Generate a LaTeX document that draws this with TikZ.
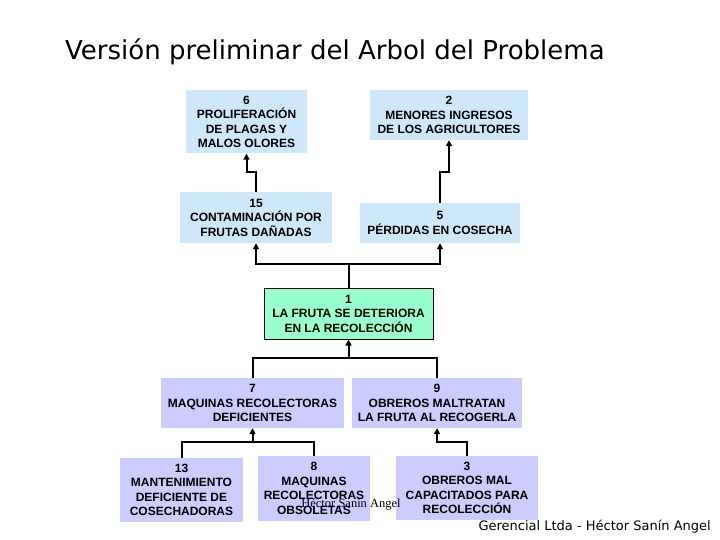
\documentclass[tikz,border=0pt]{standalone}
\usepackage{fontspec}
\setmainfont{Liberation Sans}
\newfontfamily\firmafont{Liberation Serif}
\newfontfamily\manofont{DejaVu Sans}
\usetikzlibrary{arrows.meta}
\definecolor{cielo}{RGB}{206,232,250}
\definecolor{menta}{RGB}{153,255,204}
\definecolor{lila}{RGB}{204,204,255}

\begin{document}
\begin{tikzpicture}[x=1pt,y=-1pt,
  caja/.style={align=center,font=\bfseries\fontsize{12}{14.5}\selectfont,inner sep=0pt},
  efecto/.style={caja,fill=cielo},
  central/.style={caja,fill=menta,draw=black,line width=1pt},
  causa/.style={caja,fill=lila},
  linea/.style={line width=2pt},
  flecha/.style={linea,-{Triangle[width=6pt,length=6pt]}}]
\useasboundingbox (0,0) rectangle (720,540);
\node[anchor=west,font=\manofont\fontsize{26}{30}\selectfont,inner sep=0pt] (titulo) at (65,52) {Versión preliminar del Arbol del Problema};
\node[efecto,minimum width=121pt,minimum height=63pt] (b6) at (246.5,122) {6\\PROLIFERACIÓN\\DE PLAGAS Y\\MALOS OLORES};
\node[efecto,minimum width=158pt,minimum height=50pt] (b2) at (449,115) {2\\MENORES INGRESOS\\DE LOS AGRICULTORES};
\node[efecto,minimum width=152pt,minimum height=51pt] (b15) at (256,217.5) {15\\CONTAMINACIÓN POR\\FRUTAS DAÑADAS};
\node[efecto,minimum width=160pt,minimum height=40pt] (b5) at (440,223) {5\\PÉRDIDAS EN COSECHA};
\node[central,minimum width=169pt,minimum height=51pt] (b1) at (348.5,313.5) {1\\LA FRUTA SE DETERIORA\\EN LA RECOLECCIÓN};
\node[causa,minimum width=183pt,minimum height=50pt] (b7) at (252.5,403) {7\\MAQUINAS RECOLECTORAS\\DEFICIENTES};
\node[causa,minimum width=170pt,minimum height=50pt] (b9) at (437,403) {9\\OBREROS MALTRATAN\\LA FRUTA AL RECOGERLA};
\node[causa,minimum width=123pt,minimum height=64pt] (b13) at (181.5,490) {13\\MANTENIMIENTO\\DEFICIENTE DE\\COSECHADORAS};
\node[causa,minimum width=112pt,minimum height=65pt] (b8) at (314,488.5) {8\\MAQUINAS\\RECOLECTORAS\\OBSOLETAS};
\node[causa,minimum width=142pt,minimum height=64pt] (b3) at (467,488) {3\\OBREROS MAL\\CAPACITADOS PARA\\RECOLECCIÓN};
\node[font=\firmafont\fontsize{12.5}{15}\selectfont,inner sep=0pt] (firma) at (351,504) {Héctor Sanín Angel};
\node[anchor=east,font=\manofont\fontsize{13}{16}\selectfont,inner sep=0pt] (pie) at (711,527) {Gerencial Ltda - Héctor Sanín Angel};
\draw[flecha] (b15.north) -- (b15.north |- 0,172) -| (b6.south);
\draw[flecha] (b5.north) -- (b5.north |- 0,172) -| (b2.south);
\coordinate (u1) at (b1.north |- 0,264);
\draw[flecha] (b1.north) -- (u1) -| (b15.south);
\draw[flecha] (u1) -| (b5.south);
\coordinate (u7) at (b1.south |- 0,358);
\draw[linea] (b7.north) |- (u7) -| (b9.north);
\draw[flecha] (u7) -- (b1.south);
\coordinate (u13) at (b7.south |- 0,442);
\draw[linea] (b13.north) |- (u13) -| (b8.north);
\draw[flecha] (u13) -- (b7.south);
\draw[flecha] (b3.north) -- (b3.north |- 0,442) -| (b9.south);
\end{tikzpicture}
\end{document}
